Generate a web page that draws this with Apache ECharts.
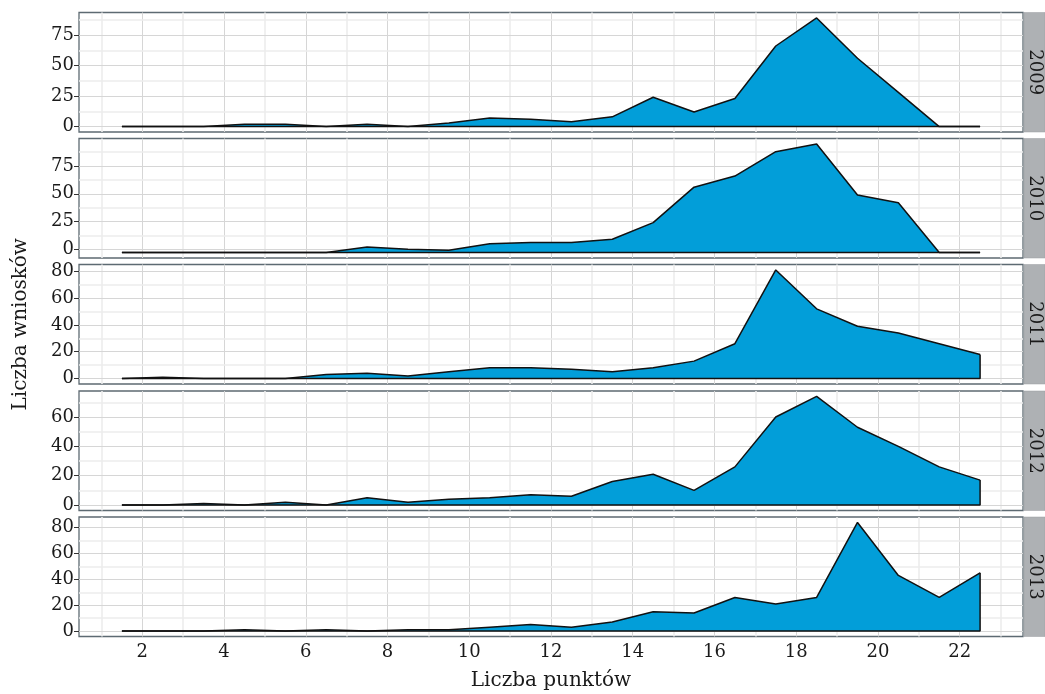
<!DOCTYPE html>
<html>
<head>
<meta charset="utf-8">
<script src="https://cdn.jsdelivr.net/npm/echarts@6/dist/echarts.min.js"></script>
<style>
  html, body { margin: 0; padding: 0; background: #fff; }
  #chart { width: 1045px; height: 694px; }
</style>
</head>
<body>
<div id="chart"></div>
<script>
// punkty na osi X (środki przedziałów)
const xPoints = [1.5, 2.5, 3.5, 4.5, 5.5, 6.5, 7.5, 8.5, 9.5, 10.5, 11.5,
                 12.5, 13.5, 14.5, 15.5, 16.5, 17.5, 18.5, 19.5, 20.5, 21.5, 22.5];
const years = ['2009', '2010', '2011', '2012', '2013'];

const counts2009 = [0, 0, 0, 2, 2, 0, 2, 0, 3, 7, 6, 4, 8, 24, 12, 23, 66, 89, 56, 28, 0, 0];
const counts2010 = [-3, -3, -3, -3, -3, -3, 2, 0, -1, 5, 6, 6, 9, 24, 56, 66, 88, 95, 49, 42, -3, -3];
const counts2011 = [0, 1, 0, 0, 0, 3, 4, 2, 5, 8, 8, 7, 5, 8, 13, 26, 81, 52, 39, 34, 26, 18];
const counts2012 = [0, 0, 1, 0, 2, 0, 5, 2, 4, 5, 7, 6, 16, 21, 10, 26, 60, 74, 53, 40, 26, 17];
const counts2013 = [0, 0, 0, 1, 0, 1, 0, 1, 1, 3, 5, 3, 7, 15, 14, 26, 21, 26, 84, 43, 26, 45];
const counts = [counts2009, counts2010, counts2011, counts2012, counts2013];

const xTicks = [2, 4, 6, 8, 10, 12, 14, 16, 18, 20, 22];
const yTicks2009 = [0, 25, 50, 75];
const yTicks2010 = [0, 25, 50, 75];
const yTicks2011 = [0, 20, 40, 60, 80];
const yTicks2012 = [0, 20, 40, 60];
const yTicks2013 = [0, 20, 40, 60, 80];
const yTicks = [yTicks2009, yTicks2010, yTicks2011, yTicks2012, yTicks2013];

// układ
const FONT = 'DejaVu Serif';
const PLOT_LEFT = 79;
const PLOT_RIGHT = 1023;
const STRIP_W = 21;
const panelTop = [12.5, 138.5, 264.5, 391, 517];
const panelH = 119.5;
const BORDER = '#5d6a72';
const AREA = '#029ed9';
const MAJOR = '#d6d6d6';
const MINOR = '#ededed';

// zakres osi X jak w ggplot (5% zapasu)
const xSpan = xPoints[xPoints.length - 1] - xPoints[0];
const xMin = xPoints[0] - 0.05 * xSpan;
const xMax = xPoints[xPoints.length - 1] + 0.05 * xSpan;

const chart = echarts.init(document.getElementById('chart'));

const grids = [], xAxes = [], yAxes = [], series = [], graphics = [];

counts.forEach((vals, i) => {
  const lo = Math.min(...vals);
  const hi = Math.max(...vals);
  const span = hi - lo;
  const yMin = lo - 0.05 * span;
  const yMax = hi + 0.05 * span;
  const ticks = yTicks[i];
  const step = ticks[1] - ticks[0];
  const isLast = i === counts.length - 1;

  grids.push({
    left: PLOT_LEFT,
    width: PLOT_RIGHT - PLOT_LEFT,
    top: panelTop[i],
    height: panelH,
    show: true,
    backgroundColor: '#fff',
    borderColor: BORDER,
    borderWidth: 1.3
  });

  xAxes.push({
    type: 'value',
    gridIndex: i,
    min: xMin,
    max: xMax,
    axisLine: { show: false },
    splitLine: { show: false },
    axisTick: {
      show: isLast,
      customValues: xTicks,
      length: 5,
      lineStyle: { color: '#333', width: 1 }
    },
    axisLabel: {
      show: isLast,
      customValues: xTicks,
      margin: 7,
      fontFamily: FONT,
      fontSize: 18,
      color: '#1a1a1a'
    },
    name: isLast ? 'Liczba punktów' : '',
    nameLocation: 'middle',
    nameGap: 34,
    nameTextStyle: { fontFamily: FONT, fontSize: 20, color: '#1a1a1a' }
  });

  yAxes.push({
    type: 'value',
    gridIndex: i,
    min: yMin,
    max: yMax,
    axisLine: { show: false },
    splitLine: { show: false },
    axisTick: {
      show: true,
      customValues: ticks,
      length: 5,
      lineStyle: { color: '#333', width: 1 }
    },
    axisLabel: {
      customValues: ticks,
      margin: 5,
      fontFamily: FONT,
      fontSize: 18,
      color: '#1a1a1a'
    },
    name: i === 2 ? 'Liczba wniosków' : '',
    nameLocation: 'middle',
    nameRotate: 90,
    nameGap: 48,
    nameTextStyle: { fontFamily: FONT, fontSize: 20, color: '#1a1a1a' }
  });

  // linie siatki (główne i pomocnicze) pod wykresem
  const lines = [];
  for (let v = Math.ceil(xMin); v <= xMax; v++) {
    lines.push({ xAxis: v, lineStyle: { color: v % 2 === 0 ? MAJOR : MINOR, width: v % 2 === 0 ? 1 : 1.6, type: 'solid' } });
  }
  ticks.forEach(t => {
    lines.push({ yAxis: t, lineStyle: { color: MAJOR, width: 1, type: 'solid' } });
  });
  for (let m = ticks[0] - step / 2; m <= yMax; m += step) {
    if (m >= yMin) lines.push({ yAxis: m, lineStyle: { color: MINOR, width: 1.6, type: 'solid' } });
  }

  const pts = xPoints.map((x, k) => [x, vals[k]]);

  series.push({
    name: years[i] + '-grid',
    type: 'line',
    xAxisIndex: i,
    yAxisIndex: i,
    data: pts,
    showSymbol: false,
    silent: true,
    z: 1,
    lineStyle: { opacity: 0 },
    animation: false,
    markLine: {
      silent: true,
      z: 1,
      symbol: ['none', 'none'],
      label: { show: false },
      emphasis: { disabled: true },
      animation: false,
      data: lines
    }
  });

  series.push({
    name: years[i],
    type: 'line',
    xAxisIndex: i,
    yAxisIndex: i,
    data: pts,
    showSymbol: false,
    z: 10,
    lineStyle: { color: '#111', width: 1.5 },
    areaStyle: { color: AREA, opacity: 1, origin: lo },
    animation: false
  });

  // domknięcie obrysu wielokąta (pion na końcach i podstawa)
  const first = pts[0], last = pts[pts.length - 1];
  series.push({
    name: years[i] + '-outline',
    type: 'line',
    xAxisIndex: i,
    yAxisIndex: i,
    data: [[last[0], last[1]], [last[0], lo], [first[0], lo], [first[0], first[1]]],
    showSymbol: false,
    silent: true,
    z: 11,
    lineStyle: { color: '#111', width: 1.5 },
    animation: false
  });

  // pasek z rokiem po prawej stronie
  graphics.push({
    type: 'rect',
    shape: { x: PLOT_RIGHT + 1, y: panelTop[i], width: STRIP_W, height: panelH },
    style: { fill: '#aeb1b4', stroke: '#9a9da0', lineWidth: 0.5 },
    silent: true
  });
  graphics.push({
    type: 'text',
    x: PLOT_RIGHT + 1 + STRIP_W / 2,
    y: panelTop[i] + panelH / 2,
    rotation: -Math.PI / 2,
    silent: true,
    style: {
      text: years[i],
      font: '18px "DejaVu Serif"',
      fill: '#1a1a1a',
      align: 'center',
      verticalAlign: 'middle'
    }
  });
});

chart.setOption({
  backgroundColor: '#fff',
  animation: false,
  grid: grids,
  xAxis: xAxes,
  yAxis: yAxes,
  series: series,
  graphic: graphics
});

window.addEventListener('resize', () => chart.resize());
</script>
</body>
</html>
